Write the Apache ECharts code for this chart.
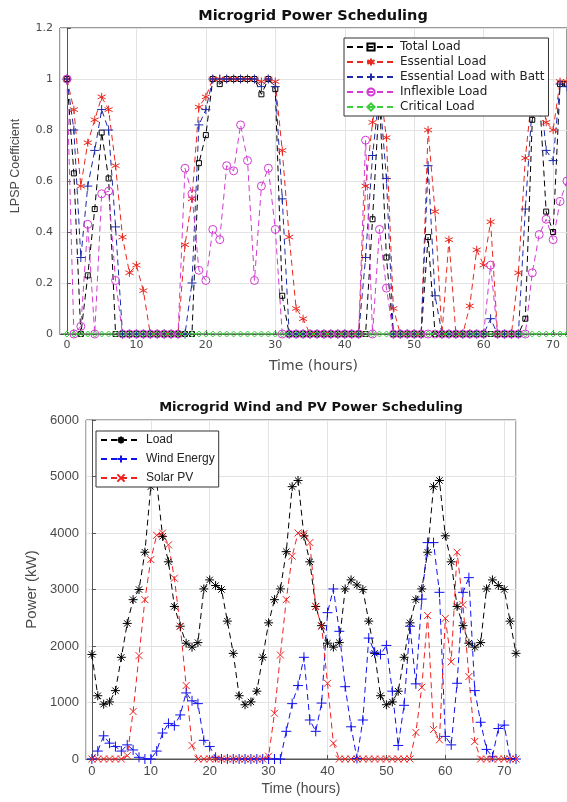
<!DOCTYPE html>
<html>
<head>
<meta charset="utf-8">
<script src="https://cdn.jsdelivr.net/npm/echarts@6/dist/echarts.min.js"></script>
<style>
html, body { margin: 0; padding: 0; background: #fff; }
#chart { width: 567px; height: 802px; }
</style>
</head>
<body>
<div id="chart"></div>
<script>
// hours shared by both plots
var hours = [0,1,2,3,4,5,6,7,8,9,10,11,12,13,14,15,16,17,18,19,20,21,22,23,
    24,25,26,27,28,29,30,31,32,33,34,35,36,37,38,39,40,41,42,43,44,45,46,47,
    48,49,50,51,52,53,54,55,56,57,58,59,60,61,62,63,64,65,66,67,68,69,70,71,72];

// top plot: LPSP coefficients
var totalLoad = [1,0.63,0,0.23,0.49,0.79,0.61,0,0,0,0,0,0,0,0,0,0,0,0,0.67,0.78,1,0.98,1,
    1,1,1,1,0.94,1,0.96,0.15,0,0,0,0,0,0,0,0,0,0,0,0,0.45,0.93,0.30,0,
    0,0,0,0,0.38,0,0,0,0,0,0,0,0,0,0,0,0,0,0.06,0.84,0.95,0.48,0.40,0.98,0.98];
var essentialLoad = [1,0.88,0.58,0.75,0.84,0.93,0.88,0.66,0.38,0.24,0.27,0.17,0,0,0,0,0,0.35,0.53,0.89,0.93,1,1,1,
    1,1,1,1,0.99,1,0.99,0.72,0.38,0.10,0.06,0,0,0,0,0,0,0,0,0.58,0.83,0.98,0.77,0.10,
    0,0,0,0,0.80,0.48,0,0.37,0,0,0.11,0.33,0.27,0.44,0,0,0,0.24,0.69,0.95,1,0.83,0.80,0.99,0.99];
var essentialBatt = [1,0.80,0.30,0.58,0.72,0.88,0.80,0.42,0,0,0,0,0,0,0,0,0,0,0.20,0.82,0.88,1,1,1,
    1,1,1,1,0.97,1,0.97,0.53,0,0,0,0,0,0,0,0,0,0,0,0.30,0.70,0.95,0.61,0,
    0,0,0,0,0.66,0.15,0,0,0,0,0,0,0,0.06,0,0,0,0,0.49,0.90,1,0.72,0.68,0.98,0.97];
var inflexibleLoad = [1,0,0.03,0.43,0,0.55,0.56,0.21,0,0,0,0,0,0,0,0,0,0.65,0.55,0.25,0.21,0.41,0.37,0.66,
    0.64,0.82,0.68,0.21,0.58,0.65,0.41,0,0,0,0,0,0,0,0,0,0,0,0,0.76,0,0.41,0.18,0,
    0,0,0,0,0,0,0,0,0,0,0,0,0,0.27,0,0,0,0,0,0.24,0.39,0.45,0.37,0.52,0.60];
var criticalLoad = [0,0,0,0,0,0,0,0,0,0,0,0,0,0,0,0,0,0,0,0,0,0,0,0,
    0,0,0,0,0,0,0,0,0,0,0,0,0,0,0,0,0,0,0,0,0,0,0,0,
    0,0,0,0,0,0,0,0,0,0,0,0,0,0,0,0,0,0,0,0,0,0,0,0,0];

// bottom plot: power in kW
var loadKW = [1850,1120,970,1010,1210,1800,2400,2820,3000,3660,4820,4910,3940,3490,2700,2350,2050,1980,2060,3010,3170,3070,3000,2440,
    1870,1120,960,1010,1200,1800,2410,2820,3010,3670,4820,4930,3950,3490,2700,2360,2050,1980,2060,3010,3170,3080,3000,2440,
    1870,1120,960,1010,1200,1800,2410,2820,3010,3660,4820,4930,3950,3490,2700,2360,2050,1980,2060,3010,3170,3070,3000,2440,1870];
var windKW = [0,140,410,280,220,140,250,160,30,0,0,140,460,630,590,780,1170,1030,980,330,220,30,0,0,
    0,0,0,0,0,0,0,0,0,490,980,1300,1800,690,490,990,2590,3010,2260,1280,570,10,690,2140,
    1890,1850,2010,1200,240,950,2350,1330,2830,3830,3830,2950,400,250,1340,2950,3210,1210,650,170,40,540,600,10,0];
var solarKW = [0,0,0,0,0,0,60,840,1830,2820,3530,3960,4000,3790,3200,2350,1300,240,0,0,0,0,0,0,
    0,0,0,0,0,0,50,810,1840,2820,3590,4000,3990,3830,2700,2350,1340,280,0,0,0,0,0,0,
    0,0,0,0,0,0,0,470,1270,2540,520,340,2490,1720,3660,2730,1460,310,0,0,0,0,0,0,0];

var STAR6 = 'path://M0,-5L0,5M-4.33,-2.5L4.33,2.5M-4.33,2.5L4.33,-2.5';
var STAR8 = 'path://M0,-5L0,5M-5,0L5,0M-3.5,-3.5L3.5,3.5M-3.5,3.5L3.5,-3.5';
var PLUS = 'path://M0,-5L0,5M-5,0L5,0';
var CROSS = 'path://M-4,-4L4,4M-4,4L4,-4';

function pairs(ys) {
    return hours.map(function (h, i) { return [h, ys[i]]; });
}

function dashed(name, ys, color, symbol, size, grid) {
    return {
        name: name,
        type: 'line',
        xAxisIndex: grid,
        yAxisIndex: grid,
        data: pairs(ys),
        symbol: symbol,
        symbolSize: size,
        showAllSymbol: true,
        lineStyle: { color: color, width: 1, type: [6, 4] },
        // hollow markers like matlab
        itemStyle: { color: 'rgba(0,0,0,0)', borderColor: color, borderWidth: 1 },
        emphasis: { disabled: true }
    };
}

var sans = 'Liberation Sans, Arial, sans-serif';
var wide = 'DejaVu Sans, sans-serif';

function xAxis(grid, nameGap, nameFont, nameSize, tickFont, tickSize) {
    return {
        type: 'value', gridIndex: grid, min: -1, max: 72, splitNumber: 7,
        name: 'Time (hours)', nameLocation: 'middle', nameGap: nameGap,
        nameTextStyle: { color: '#4a4a4a', fontSize: nameSize, fontFamily: nameFont },
        axisLine: { lineStyle: { color: '#555' } },
        axisTick: { inside: true, length: 4, lineStyle: { color: '#555' } },
        axisLabel: { margin: 6, showMinLabel: false, showMaxLabel: false,
            color: '#4a4a4a', fontSize: tickSize, fontFamily: tickFont },
        splitLine: { lineStyle: { color: '#e3e3e3' } }
    };
}

var chart = echarts.init(document.getElementById('chart'));
chart.setOption({
    animation: false,
    backgroundColor: '#fff',
    title: [
        { text: 'Microgrid Power Scheduling', left: 313, top: 9, padding: 0, textAlign: 'center',
          textStyle: { fontSize: 14.5, fontWeight: 'bold', color: '#111', fontFamily: wide } },
        { text: 'Microgrid Wind and PV Power Scheduling', left: 311, top: 401, padding: 0, textAlign: 'center',
          textStyle: { fontSize: 13, fontWeight: 'bold', color: '#111', fontFamily: wide } }
    ],
    legend: [
        { orient: 'vertical', left: 344, top: 38, itemWidth: 48, itemHeight: 9, itemGap: 1,
          padding: [2, 4, 2, 2], borderColor: '#333', borderWidth: 1, backgroundColor: '#fff',
          textStyle: { fontSize: 12, lineHeight: 14, color: '#222', fontFamily: wide },
          data: ['Total Load', 'Essential Load', 'Essential Load with Batt', 'Inflexible Load', 'Critical Load'] },
        { orient: 'vertical', left: 96, top: 431, itemWidth: 40, itemHeight: 9, itemGap: 7,
          padding: [3, 4, 3, 4], borderColor: '#333', borderWidth: 1, backgroundColor: '#fff',
          textStyle: { fontSize: 12, color: '#222', fontFamily: sans },
          data: ['Load', 'Wind Energy', 'Solar PV'] }
    ],
    grid: [
        { left: 60, top: 28, width: 507, height: 306, show: true, borderColor: '#333', borderWidth: 1 },
        { left: 86, top: 420, width: 430, height: 339, show: true, borderColor: '#555', borderWidth: 1 }
    ],
    xAxis: [xAxis(0, 25, wide, 14, wide, 11), xAxis(1, 23, sans, 14, sans, 13)],
    yAxis: [
        { type: 'value', gridIndex: 0, min: 0, max: 1.2, interval: 0.2,
          name: 'LPSP Coefficient', nameLocation: 'middle', nameGap: 38,
          nameTextStyle: { color: '#4a4a4a', fontSize: 12.5, fontFamily: sans, padding: [0, 0, 0, 30] },
          axisLine: { show: true, lineStyle: { color: '#555' } },
          axisTick: { show: true, inside: true, length: 4, lineStyle: { color: '#555' } },
          axisLabel: { margin: 7, color: '#4a4a4a', fontSize: 11, fontFamily: wide },
          splitLine: { lineStyle: { color: '#e3e3e3' } } },
        { type: 'value', gridIndex: 1, min: 0, max: 6000, interval: 1000,
          name: 'Power (kW)', nameLocation: 'middle', nameGap: 42,
          nameTextStyle: { color: '#4a4a4a', fontSize: 15, fontFamily: sans },
          axisLine: { show: true, lineStyle: { color: '#555' } },
          axisTick: { show: true, inside: true, length: 4, lineStyle: { color: '#555' } },
          axisLabel: { margin: 7, color: '#4a4a4a', fontSize: 13, fontFamily: sans,
              formatter: function (v) { return String(v); } },
          splitLine: { lineStyle: { color: '#e3e3e3' } } }
    ],
    series: [
        dashed('Total Load', totalLoad, '#000000', 'rect', 5, 0),
        dashed('Essential Load', essentialLoad, '#e8281e', STAR6, 8, 0),
        dashed('Essential Load with Batt', essentialBatt, '#1c2aa8', PLUS, 9, 0),
        dashed('Inflexible Load', inflexibleLoad, '#d23ad2', 'circle', 8, 0),
        dashed('Critical Load', criticalLoad, '#3ccc3c', 'diamond', 6, 0),
        dashed('Load', loadKW, '#000000', STAR8, 9, 1),
        dashed('Wind Energy', windKW, '#1010f0', PLUS, 10, 1),
        dashed('Solar PV', solarKW, '#f02020', CROSS, 7, 1)
    ]
});
</script>
</body>
</html>
